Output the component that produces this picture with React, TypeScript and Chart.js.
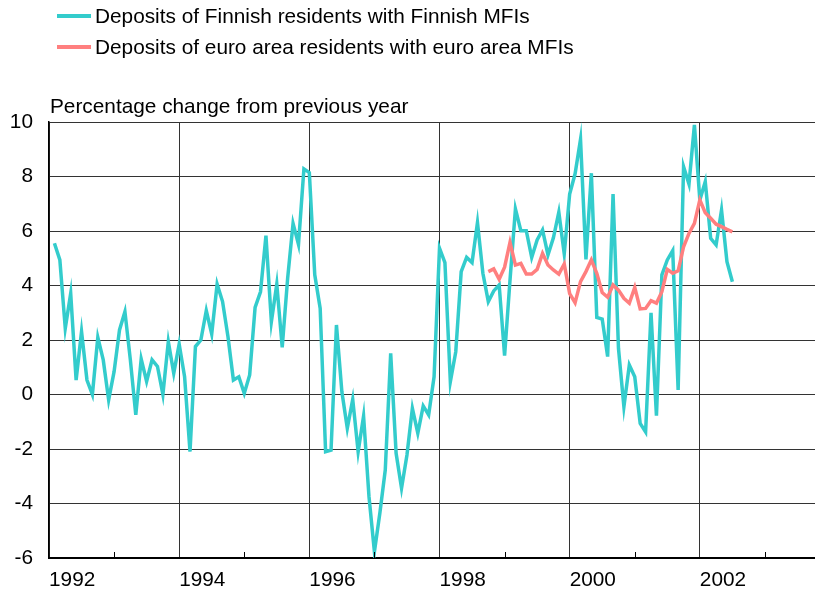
import React, { useEffect, useRef } from "react";
import { Chart, registerables } from "chart.js";

Chart.register(...registerables);

// ---- data ----
const startYear = 1992;
const seriesLabels = [
  "Deposits of Finnish residents with Finnish MFIs",
  "Deposits of euro area residents with euro area MFIs",
];
const yAxisTitle = "Percentage change from previous year";

// monthly, Jan 1992 .. Jun 2002
const finnishDeposits = [
  5.55, 4.94, 2.43, 3.71, 0.53, 2.31, 0.53, 0.0, 2.1, 1.27,
  -0.2, 0.84, 2.37, 3.04, 1.27, -0.75, 1.3, 0.48, 1.27, 1.03,
  0.0, 1.94, 0.78, 1.85, 0.65, -2.1, 1.76, 2.0, 3.08, 2.22,
  4.05, 3.41, 2.12, 0.53, 0.65, 0.04, 0.72, 3.2, 3.77, 5.83,
  2.67, 4.05, 1.73, 4.26, 6.28, 5.51, 8.28, 8.14, 4.39, 3.16,
  -2.1, -2.04, 2.55, 0.1, -1.24, -0.18, -2.1, -0.79, -3.75, -5.77,
  -4.36, -2.77, 1.51, -2.16, -3.44, -2.22, -0.51, -1.42, -0.42, -0.75,
  0.65, 5.37, 4.84, 0.47, 1.57, 4.51, 5.03, 4.84, 6.31, 4.45,
  3.41, 3.8, 4.02, 1.43, 4.2, 6.81, 6.01, 6.01, 5.03, 5.67,
  6.04, 5.12, 5.75, 6.69, 5.16, 7.36, 8.1, 9.36, 4.96, 8.12,
  2.83, 2.77, 1.39, 7.36, 1.69, -0.45, 1.08, 0.65, -1.06, -1.37,
  3.0, -0.78, 4.39, 4.94, 5.28, 0.17, 8.36, 7.72, 9.89, 7.14,
  7.81, 5.73, 5.49, 6.77, 4.87, 4.14,
];

// monthly, Sep 1998 .. Jun 2002
const euroStartIndex = 80;
const euroAreaDeposits = [
  4.51, 4.61, 4.23, 4.67, 5.58, 4.75, 4.81, 4.42, 4.42, 4.59,
  5.18, 4.75, 4.57, 4.42, 4.79, 3.7, 3.37, 4.14, 4.51, 4.94,
  4.45, 3.74, 3.57, 4.02, 3.83, 3.53, 3.35, 3.93, 3.14, 3.16,
  3.44, 3.35, 3.77, 4.59, 4.45, 4.54, 5.42, 5.91, 6.28, 7.14,
  6.67, 6.47, 6.25, 6.16, 6.06, 5.97,
];

const yearTickLabels = [1992, 1994, 1996, 1998, 2000, 2002];
const minorYearTicks = [1993, 1995, 1997, 1999, 2001, 2003];
const yTicks = [-6, -4, -2, 0, 2, 4, 6, 8, 10];

const CYAN = "#33cccc";
const RED = "#ff7f7f";
const FONT = '"Liberation Sans", Arial, sans-serif';
const FONT_SIZE = 20.8;

// month positions (end of month, in years)
const monthPos = finnishDeposits.map((_, i) => startYear + (i + 1) / 12);

export default function App() {
  const ref = useRef<HTMLCanvasElement | null>(null);

  useEffect(() => {
    if (!ref.current) return;

    const decorPlugin = {
      id: "decor",
      afterDatasetsDraw(chart: any) {
        const { ctx, chartArea, scales } = chart;
        ctx.save();
        ctx.strokeStyle = "#000";
        ctx.lineWidth = 1;
        minorYearTicks.forEach((yr) => {
          const x = Math.round(scales.x.getPixelForValue(yr)) + 0.5;
          ctx.beginPath();
          ctx.moveTo(x, chartArea.bottom);
          ctx.lineTo(x, chartArea.bottom - 6);
          ctx.stroke();
        });
        ctx.restore();
      },
      afterDraw(chart: any) {
        const { ctx } = chart;
        ctx.save();
        ctx.font = `${FONT_SIZE}px ${FONT}`;
        ctx.fillStyle = "#000";
        ctx.textAlign = "left";
        ctx.textBaseline = "alphabetic";
        ctx.fillText(yAxisTitle, 50, 113);
        const items = [
          { color: CYAN, y: 16 },
          { color: RED, y: 47 },
        ];
        items.forEach((it, k) => {
          ctx.strokeStyle = it.color;
          ctx.lineWidth = 4;
          ctx.beginPath();
          ctx.moveTo(57, it.y);
          ctx.lineTo(91, it.y);
          ctx.stroke();
          ctx.textBaseline = "middle";
          ctx.fillStyle = "#000";
          ctx.fillText(seriesLabels[k], 95, it.y + 1);
        });
        ctx.restore();
      },
    };

    const chart = new Chart(ref.current, {
      type: "line",
      data: {
        datasets: [
          {
            label: seriesLabels[0],
            data: finnishDeposits.map((v, i) => ({ x: monthPos[i], y: v })),
            borderColor: CYAN,
            backgroundColor: CYAN,
            borderWidth: 3.5,
            pointRadius: 0,
            tension: 0,
            order: 1,
          },
          {
            label: seriesLabels[1],
            data: euroAreaDeposits.map((v, i) => ({
              x: monthPos[i + euroStartIndex],
              y: v,
            })),
            borderColor: RED,
            backgroundColor: RED,
            borderWidth: 3.5,
            pointRadius: 0,
            tension: 0,
            order: 0,
          },
        ],
      },
      options: {
        responsive: false,
        animation: false,
        devicePixelRatio: 1,
        layout: { padding: { top: 122, left: 0, right: 0, bottom: 0 } },
        plugins: {
          legend: { display: false },
          tooltip: { enabled: false },
          title: { display: false },
        },
        scales: {
          x: {
            type: "linear",
            min: 1992,
            max: 2004,
            afterBuildTicks: (s: any) => {
              s.ticks = yearTickLabels.map((v) => ({ value: v }));
            },
            afterFit: (s: any) => {
              s.height = 44;
            },
            ticks: {
              align: "start",
              autoSkip: false,
              maxRotation: 0,
              padding: 10,
              color: "#000",
              font: { family: FONT, size: FONT_SIZE },
              callback: (v: any) => String(v),
            },
            grid: { color: "#333", lineWidth: 1, drawTicks: false },
            border: { color: "#000", width: 2 },
          },
          y: {
            type: "linear",
            min: -6,
            max: 10,
            afterBuildTicks: (s: any) => {
              s.ticks = yTicks.map((v) => ({ value: v }));
            },
            afterFit: (s: any) => {
              s.width = 49;
            },
            ticks: {
              padding: 16,
              color: "#000",
              font: { family: FONT, size: FONT_SIZE },
              callback: (v: any) => String(v),
            },
            grid: { color: "#333", lineWidth: 1, drawTicks: false },
            border: { color: "#000", width: 1.5 },
          },
        },
      },
      plugins: [decorPlugin],
    } as any);

    return () => chart.destroy();
  }, []);

  return (
    <div
      style={{
        position: "absolute",
        left: 0,
        top: 0,
        width: 815,
        height: 602,
        overflow: "hidden",
        background: "#fff",
      }}
    >
      <canvas ref={ref} width={830} height={602} style={{ display: "block" }} />
    </div>
  );
}
